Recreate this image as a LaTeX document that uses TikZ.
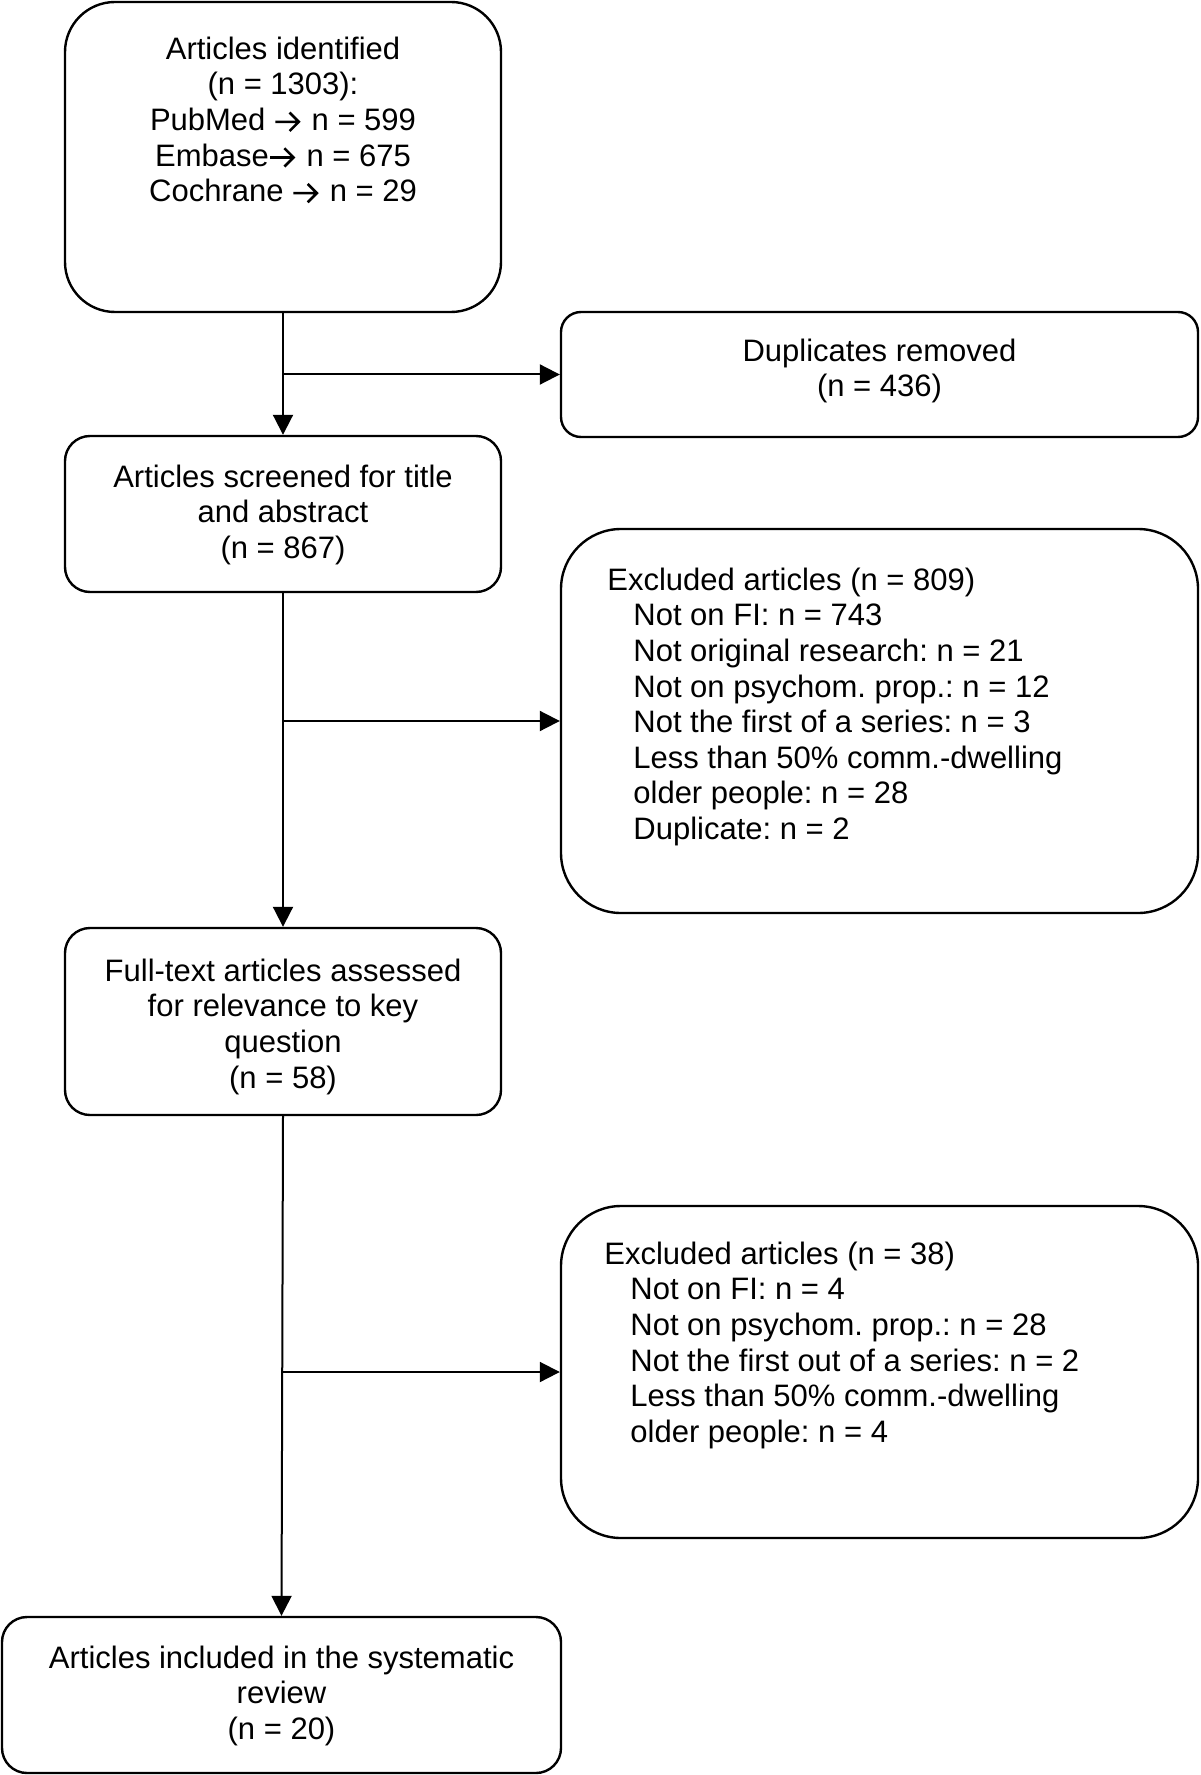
\documentclass[tikz,border=0pt]{standalone}
\usepackage{fontspec}
\setmainfont{Liberation Sans}
\usetikzlibrary{arrows.meta}
\frenchspacing
\newcommand{\rarrow}{\tikz[baseline=0pt,x=1pt,y=1pt]\draw[line width=1.3pt,line join=miter,line cap=butt] (0.5,4.3) -- (12.2,4.3) (7.6,8.9) -- (12.2,4.3) -- (7.6,-0.3);\kern1.5pt}
\begin{document}
\begin{tikzpicture}[x=0.5pt,y=-0.5pt,
  box/.style={draw, line width=1.2pt, inner sep=0pt, rounded corners=#1},
  box/.default=12.5pt,
  txt/.style={inner sep=0pt, font=\fontsize{15.5pt}{17.8pt}\selectfont, anchor=north, align=center},
  ltxt/.style={inner sep=0pt, font=\fontsize{15.5pt}{17.8pt}\selectfont, anchor=north west, align=left},
  arr/.style={line width=1pt, -{Triangle[length=10pt,width=10pt]}}]
\useasboundingbox (0,0) rectangle (1200,1775);
% boxes
\node[box=25pt, minimum width=218pt, minimum height=155pt] (b1) at (283,157) {};
\node[box=10pt, minimum width=318.5pt, minimum height=62.5pt] (dup) at (879.5,374.5) {};
\node[box, minimum width=218pt, minimum height=78pt] (b2) at (283,514) {};
\node[box=30pt, minimum width=318.5pt, minimum height=192pt] (ex1) at (879.5,721) {};
\node[box, minimum width=218pt, minimum height=93.5pt] (b3) at (283,1021.5) {};
\node[box=30pt, minimum width=318.5pt, minimum height=166pt] (ex2) at (879.5,1372) {};
\node[box, minimum width=279.5pt, minimum height=78pt] (b4) at (281.5,1695) {};
% texts
\node[txt] (t1) at (283,36.4) {Articles identified\\(n = 1303):\\PubMed \rarrow{} n = 599\\Embase\rarrow{} n = 675\\Cochrane \rarrow{} n = 29};
\node[txt] (tdup) at (879.5,338.4) {Duplicates removed\\(n = 436)};
\node[txt] (t2) at (283,464.4) {Articles screened for title\\and abstract\\(n = 867)};
\node[ltxt] (tex1) at (607,567.4) {Excluded articles (n = 809)\\
\hspace*{13pt}Not on FI: n = 743\\
\hspace*{13pt}Not original research: n = 21\\
\hspace*{13pt}Not on psychom. prop.: n = 12\\
\hspace*{13pt}Not the first of a series: n = 3\\
\hspace*{13pt}Less than 50\% comm.-dwelling\\
\hspace*{13pt}older people: n = 28\\
\hspace*{13pt}Duplicate: n = 2};
\node[txt] (t3) at (283,958.4) {Full-text articles assessed\\for relevance to key\\question\\(n = 58)};
\node[ltxt] (tex2) at (604,1241.4) {Excluded articles (n = 38)\\
\hspace*{13pt}Not on FI: n = 4\\
\hspace*{13pt}Not on psychom. prop.: n = 28\\
\hspace*{13pt}Not the first out of a series: n = 2\\
\hspace*{13pt}Less than 50\% comm.-dwelling\\
\hspace*{13pt}older people: n = 4};
\node[txt] (t4) at (281.5,1645.4) {Articles included in the systematic\\review\\(n = 20)};
% connectors
\draw[arr] (b1.south) -- (b2.north);
\draw[arr] (b1.south |- dup.west) -- (dup.west);
\draw[arr] (b2.south) -- (b3.north);
\draw[arr] (b2.south |- ex1.west) -- (ex1.west);
\draw[arr] (b3.south) -- (b4.north);
\draw[arr] (b3.south |- ex2.west) -- (ex2.west);
\end{tikzpicture}
\end{document}
